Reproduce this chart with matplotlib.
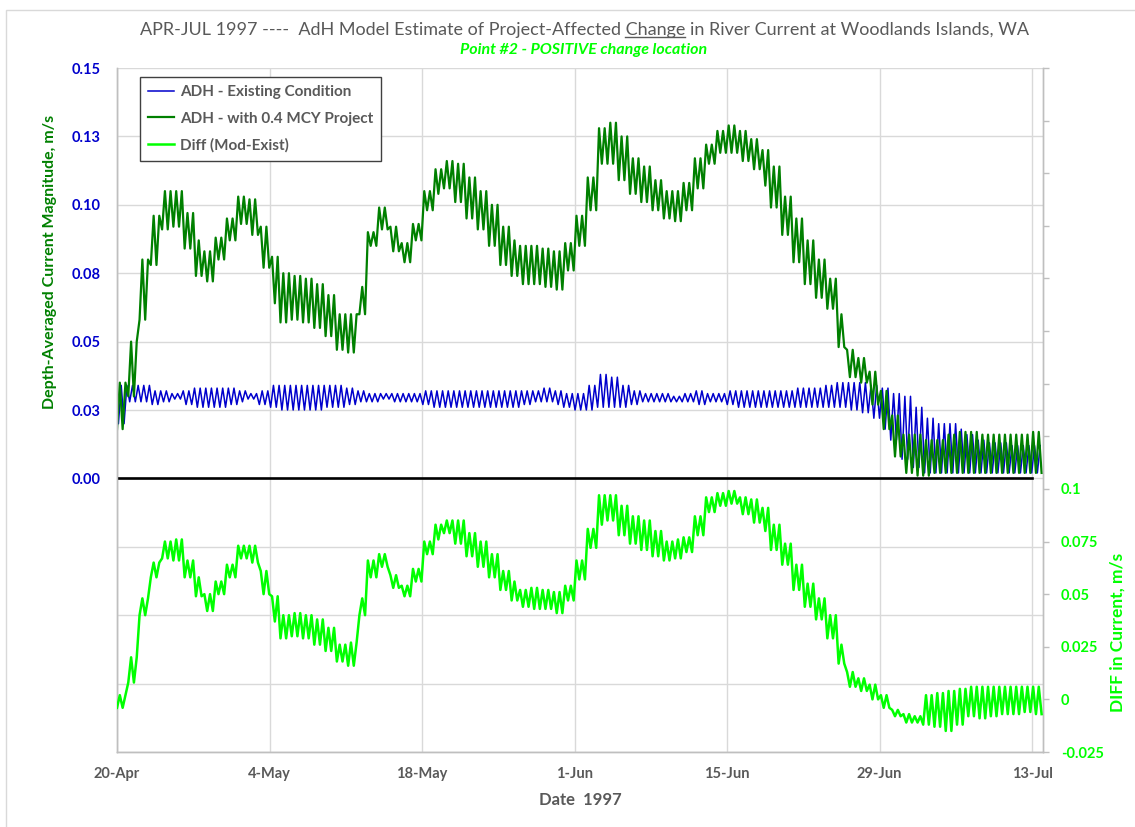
import numpy as np
import matplotlib
matplotlib.use("Agg")
import matplotlib.pyplot as plt
from matplotlib.lines import Line2D
from matplotlib.patches import Rectangle

plt.rcParams['font.family'] = ['Lato', 'DejaVu Sans']

# Daily envelope of the tidal signal (m/s), day 0 = 20-Apr-1997
existing_hi = [0.034, 0.034, 0.034, 0.032, 0.032, 0.031, 0.032, 0.033, 0.033, 0.033,
               0.033, 0.032, 0.031, 0.032, 0.034, 0.034, 0.034, 0.034, 0.034, 0.034,
               0.034, 0.033, 0.032, 0.031, 0.031, 0.031, 0.031, 0.031, 0.032, 0.032,
               0.032, 0.032, 0.032, 0.032, 0.032, 0.032, 0.032, 0.032, 0.032, 0.033,
               0.032, 0.031, 0.031, 0.034, 0.038, 0.037, 0.034, 0.032, 0.031, 0.031,
               0.031, 0.030, 0.031, 0.032, 0.031, 0.031, 0.032, 0.032, 0.032, 0.032,
               0.032, 0.032, 0.033, 0.033, 0.033, 0.034, 0.035, 0.035, 0.035, 0.034,
               0.033, 0.031, 0.030, 0.026, 0.022, 0.020, 0.020, 0.018, 0.016, 0.014,
               0.013, 0.013, 0.012, 0.012, 0.012]
existing_lo = [0.020, 0.028, 0.028, 0.027, 0.028, 0.029, 0.027, 0.026, 0.026, 0.026,
               0.027, 0.028, 0.029, 0.027, 0.026, 0.025, 0.025, 0.025, 0.025, 0.026,
               0.026, 0.027, 0.028, 0.028, 0.029, 0.028, 0.028, 0.028, 0.027, 0.026,
               0.026, 0.026, 0.026, 0.026, 0.026, 0.026, 0.026, 0.027, 0.028, 0.028,
               0.027, 0.026, 0.025, 0.025, 0.026, 0.026, 0.026, 0.027, 0.028, 0.028,
               0.028, 0.028, 0.028, 0.027, 0.028, 0.028, 0.027, 0.026, 0.026, 0.026,
               0.026, 0.026, 0.026, 0.026, 0.026, 0.026, 0.026, 0.025, 0.024, 0.022,
               0.018, 0.014, 0.007, 0.004, 0.002, 0.002, 0.002, 0.002, 0.002, 0.002,
               0.002, 0.002, 0.002, 0.002, 0.002]
project_hi = [0.035, 0.050, 0.080, 0.096, 0.105, 0.105, 0.097, 0.087, 0.083, 0.088,
              0.095, 0.103, 0.102, 0.092, 0.081, 0.075, 0.074, 0.073, 0.071, 0.067,
              0.060, 0.060, 0.070, 0.090, 0.099, 0.092, 0.086, 0.093, 0.105, 0.113,
              0.116, 0.115, 0.110, 0.105, 0.100, 0.092, 0.087, 0.085, 0.085, 0.084,
              0.083, 0.086, 0.096, 0.110, 0.128, 0.130, 0.125, 0.117, 0.114, 0.109,
              0.105, 0.105, 0.108, 0.117, 0.122, 0.127, 0.129, 0.127, 0.124, 0.120,
              0.114, 0.103, 0.095, 0.087, 0.080, 0.073, 0.060, 0.047, 0.044, 0.039,
              0.032, 0.023, 0.016, 0.016, 0.014, 0.014, 0.016, 0.017, 0.017, 0.016,
              0.016, 0.016, 0.016, 0.016, 0.017]
project_lo = [0.018, 0.030, 0.058, 0.078, 0.091, 0.092, 0.084, 0.074, 0.072, 0.080,
              0.087, 0.093, 0.089, 0.077, 0.064, 0.057, 0.058, 0.057, 0.055, 0.052,
              0.047, 0.046, 0.060, 0.085, 0.091, 0.083, 0.079, 0.087, 0.098, 0.104,
              0.106, 0.101, 0.095, 0.091, 0.085, 0.078, 0.074, 0.071, 0.071, 0.070,
              0.069, 0.076, 0.085, 0.098, 0.115, 0.115, 0.109, 0.104, 0.101, 0.098,
              0.095, 0.094, 0.098, 0.106, 0.115, 0.119, 0.119, 0.116, 0.113, 0.107,
              0.099, 0.089, 0.079, 0.071, 0.066, 0.062, 0.048, 0.037, 0.035, 0.027,
              0.018, 0.008, 0.002, 0.001, 0.001, 0.002, 0.002, 0.002, 0.002, 0.002,
              0.002, 0.002, 0.002, 0.002, 0.002]
diff_hi = [0.002, 0.020, 0.048, 0.065, 0.075, 0.076, 0.066, 0.058, 0.050, 0.056,
           0.064, 0.073, 0.073, 0.061, 0.049, 0.040, 0.041, 0.040, 0.038, 0.034,
           0.026, 0.027, 0.048, 0.066, 0.069, 0.059, 0.054, 0.062, 0.075, 0.083,
           0.085, 0.085, 0.079, 0.075, 0.069, 0.061, 0.056, 0.052, 0.053, 0.052,
           0.051, 0.054, 0.066, 0.081, 0.097, 0.097, 0.092, 0.087, 0.085, 0.080,
           0.075, 0.076, 0.077, 0.087, 0.096, 0.098, 0.099, 0.096, 0.095, 0.091,
           0.083, 0.074, 0.064, 0.055, 0.048, 0.040, 0.026, 0.013, 0.010, 0.007,
           0.002, -0.005, -0.007, -0.008, 0.002, 0.003, 0.004, 0.005, 0.006, 0.006,
           0.006, 0.006, 0.006, 0.006, 0.006]
diff_lo = [-0.004, 0.008, 0.040, 0.058, 0.067, 0.066, 0.058, 0.049, 0.042, 0.050,
           0.058, 0.067, 0.065, 0.050, 0.037, 0.029, 0.030, 0.029, 0.026, 0.023,
           0.018, 0.016, 0.040, 0.058, 0.063, 0.053, 0.049, 0.056, 0.069, 0.076,
           0.079, 0.074, 0.068, 0.063, 0.058, 0.052, 0.047, 0.044, 0.043, 0.043,
           0.041, 0.047, 0.057, 0.072, 0.083, 0.085, 0.078, 0.074, 0.071, 0.068,
           0.066, 0.067, 0.070, 0.078, 0.089, 0.092, 0.093, 0.088, 0.084, 0.080,
           0.071, 0.064, 0.052, 0.044, 0.038, 0.029, 0.017, 0.006, 0.004, 0.000,
           -0.004, -0.008, -0.011, -0.011, -0.012, -0.013, -0.015, -0.012, -0.008, -0.009,
           -0.008, -0.007, -0.007, -0.006, -0.007]

date_labels = ["20-Apr", "4-May", "18-May", "1-Jun", "15-Jun", "29-Jun", "13-Jul"]
left_labels = ["", "", "", "", "0.00", "0.03", "0.05", "0.08", "0.10", "0.13", "0.15"]
right_labels = ["-0.025", "0", "0.025", "0.05", "0.075", "0.1"]
series_names = ["ADH - Existing Condition", "ADH - with 0.4 MCY Project", "Diff (Mod-Exist)"]

# Semi-diurnal tide: extremes every half of a 12.42 h cycle
half_cycle = 12.42 / 24.0 / 2.0


def tidal(hi, lo, offset=0.0):
    t = np.arange(offset, 84.9, half_cycle)
    day = np.minimum(t.astype(int), 84)
    is_peak = (np.arange(t.size) % 2) == 1
    return t, np.where(is_peak, np.asarray(hi)[day], np.asarray(lo)[day])


t_ex, exist = tidal(existing_hi, existing_lo, offset=0.5 * half_cycle)
t_ex = np.concatenate([[0.0], t_ex])
exist = np.concatenate([[existing_lo[0]], exist])
t_pr, proj = tidal(project_hi, project_lo)
t_df, diff = tidal(diff_hi, diff_lo)

W, H = 1135, 827
fig = plt.figure(figsize=(W / 100, H / 100), dpi=100)
L, R, T, B = 117, 1043, 68, 752
ax = fig.add_axes([L / W, 1 - B / H, (R - L) / W, (B - T) / H])
ax2 = ax.twinx()

grid_c = '#D9D9D9'
ax.set_xlim(0, 85)
ax.set_ylim(-0.1, 0.15)
ax2.set_ylim(-0.025, 0.3)

ax.set_yticks(np.linspace(-0.1, 0.15, 11))
ax.set_yticklabels(left_labels)
ax.set_xticks(np.arange(0, 85, 14))
ax.set_xticklabels(date_labels)
ax.grid(True, color=grid_c, lw=1.0)
ax.set_axisbelow(True)
ax.tick_params(axis='y', length=0, pad=12, labelsize=10.5, labelcolor='#0000CC')
ax.tick_params(axis='x', length=0, pad=11, labelsize=10.5, labelcolor='#595959')
for lab in ax.get_yticklabels() + ax.get_xticklabels():
    lab.set_fontweight('bold')

ax2.set_yticks(np.linspace(-0.025, 0.3, 14))
ax2.set_yticklabels(right_labels + [""] * 8)
ax2.tick_params(axis='y', length=4, width=1, color='#BFBFBF', pad=9,
                labelsize=10.5, labelcolor='#00FF00')
for lab in ax2.get_yticklabels():
    lab.set_fontweight('bold')

for a in (ax, ax2):
    a.spines['top'].set_visible(False)
    for s in ('left', 'bottom', 'right'):
        a.spines[s].set_color('#BFBFBF')
        a.spines[s].set_linewidth(1.0)

l1, = ax.plot(t_ex, exist, color='#0000CC', lw=1.1, label=series_names[0], zorder=3)
l2, = ax.plot(t_pr, proj, color='#008000', lw=1.6, label=series_names[1], zorder=4)
ax.plot([0, 84], [0, 0], color='black', lw=1.9, zorder=5)
l3, = ax2.plot(t_df, diff, color='#00FF00', lw=1.8, label=series_names[2], zorder=3)

leg = ax2.legend(handles=[l1, l2, l3], loc='upper left',
                 bbox_to_anchor=(0.0248, 0.987), borderaxespad=0.0,
                 frameon=True, fancybox=False,
                 edgecolor='#404040', framealpha=1.0, borderpad=0.55,
                 labelspacing=0.8, handlelength=1.7, handletextpad=0.35,
                 prop={'family': 'Lato', 'weight': 'bold', 'size': 11})
leg.get_frame().set_linewidth(1.0)
for txt in leg.get_texts():
    txt.set_color('#595959')

# Titles and axis captions
title_pre = "APR-JUL 1997 ----  AdH Model Estimate of Project-Affected "
title_word = "Change"
title_post = " in River Current at Woodlands Islands, WA"
title = fig.text(584 / W, 1 - 30 / H, title_pre + title_word + title_post,
                 ha='center', va='center', fontsize=13, color='#595959')
fig.text(584 / W, 1 - 50 / H, "Point #2 - POSITIVE change location",
         ha='center', va='center', fontsize=11.5, fontweight='bold',
         style='italic', color='#00FF00')
fig.text(50 / W, 1 - 262 / H, "Depth-Averaged Current Magnitude, m/s",
         rotation=90, ha='center', va='center', fontsize=11.5,
         fontweight='bold', color='#008000')
fig.text(1118 / W, 1 - 632 / H, "DIFF in Current, m/s", rotation=90,
         ha='center', va='center', fontsize=12.5, fontweight='bold',
         color='#00FF00')
fig.text(580 / W, 1 - 800 / H, "Date  1997", ha='center', va='center',
         fontsize=12, fontweight='bold', color='#595959')

# Underline the key word of the title
renderer = fig.canvas.get_renderer()
full_bb = title.get_window_extent(renderer)
probe = fig.text(0, 0, title_pre, fontsize=13)
pre_w = probe.get_window_extent(renderer).width
probe.set_text(title_pre + title_word)
word_end = probe.get_window_extent(renderer).width
probe.remove()
x0 = (full_bb.x0 + pre_w) / W
x1 = (full_bb.x0 + word_end) / W
yl = (full_bb.y0 + 1) / H
fig.add_artist(Line2D([x0, x1], [yl, yl], transform=fig.transFigure,
                      color='#595959', lw=1.0))

# Chart-area frame
fig.add_artist(Rectangle((6 / W, -0.01), 1.2, 1 - 10 / H + 0.01,
                         transform=fig.transFigure, fill=False,
                         edgecolor='#D9D9D9', lw=1.0))

fig.savefig('out.png', dpi=100)
